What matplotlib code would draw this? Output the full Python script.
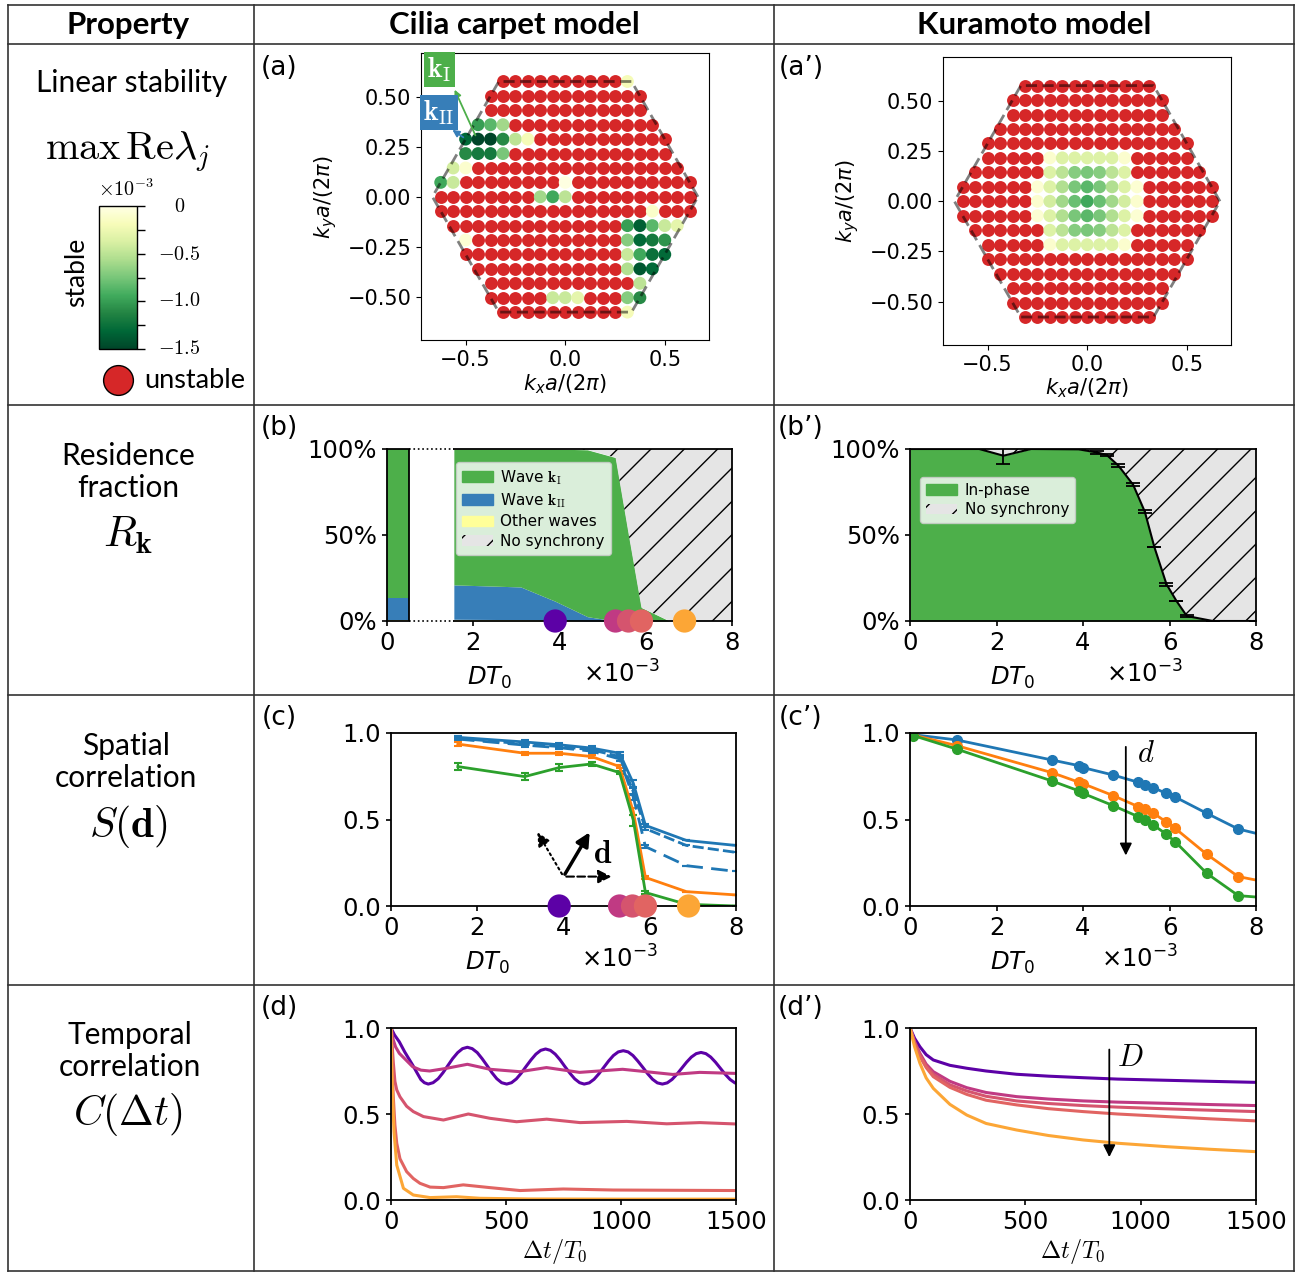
import numpy as np
import matplotlib
matplotlib.use("Agg")
import matplotlib.pyplot as plt
from matplotlib.patches import Patch
from matplotlib.colors import Normalize
from matplotlib.cm import ScalarMappable

plt.rcParams['font.family'] = 'DejaVu Sans'
plt.rcParams['mathtext.fontset'] = 'dejavusans'
plt.rcParams['hatch.linewidth'] = 1.0

# ---------------- data ----------------
# (a) cilia carpet: stable k-points (i, j, max Re lambda in units of 1e-3); all other points unstable
cilia_stable = [
    (5, 8, -0.2),
    (-7, 5, -1.0), (-6, 5, -0.85), (-5, 5, -0.6),
    (-8, 4, -1.3), (-7, 4, -1.5), (-6, 4, -1.5), (-5, 4, -1.1), (-4, 4, -0.5), (-3, 4, -0.2),
    (-8, 3, -1.1), (-7, 3, -1.2), (-6, 3, -1.2), (-5, 3, -0.75),
    (-9, 2, -0.4), (-8, 2, -0.1),
    (-10, 1, -0.95), (-9, 1, -0.45), (0, 1, -0.02),
    (-2, 0, -0.6), (-1, 0, -0.95), (0, 0, -0.5),
    (7, -1, -0.12),
    (5, -2, -1.0), (6, -2, -1.35), (7, -2, -0.85), (8, -2, -0.45), (9, -2, -0.3),
    (-8, -3, -0.08), (5, -3, -0.7), (6, -3, -1.3), (7, -3, -1.2), (8, -3, -1.05),
    (5, -4, -0.45), (6, -4, -0.95), (7, -4, -1.25), (8, -4, -1.3),
    (5, -5, -0.55), (6, -5, -1.4), (7, -5, -1.3),
    (6, -6, -0.5),
    (-1, -7, -0.45), (0, -7, -0.45), (1, -7, -0.3), (5, -7, -0.7), (6, -7, -1.1),
    (5, -8, -0.2),
]

# (a') Kuramoto: stable patch around k = 0 (nan = unstable)
nan = np.nan
kur_cols = [-4, -3, -2, -1, 0, 1, 2, 3, 4]
kur_rows = [3, 2, 1, 0, -1, -2, -3]
kur_patch = [
    [nan, -0.1, -0.35, -0.35, -0.35, -0.35, -0.35, -0.1, nan],
    [nan, -0.35, -0.5, -0.7, -0.75, -0.7, -0.5, -0.35, nan],
    [-0.08, -0.35, -0.55, -0.75, -0.85, -0.75, -0.55, -0.35, -0.08],
    [-0.1, -0.4, -0.6, -0.8, -0.95, -0.8, -0.6, -0.4, -0.1],
    [-0.08, -0.35, -0.55, -0.75, -0.85, -0.75, -0.55, -0.35, -0.08],
    [nan, -0.35, -0.5, -0.7, -0.75, -0.7, -0.5, -0.35, nan],
    [nan, -0.1, -0.35, -0.35, -0.35, -0.35, -0.35, -0.1, nan],
]

# (b) residence fractions, cilia
res_bar = [0.005, 0.131, 0.864]          # other, kII, kI at the single bar
res_x = [1.55, 3.1, 3.9, 4.65, 5.3, 5.62, 5.9, 6.55, 8.0]
res_other = [0.01, 0.008, 0.005, 0, 0, 0, 0, 0, 0]
res_kII = [0.2, 0.19, 0.11, 0.025, 0, 0, 0, 0, 0]
res_kI = [0.79, 0.802, 0.885, 0.97, 0.95, 0.48, 0.078, 0, 0]

# (b') residence, kuramoto (in-phase)
kb_x = [0.0, 1.6, 2.16, 2.8, 3.9, 4.32, 4.55, 4.82, 5.16, 5.43, 5.65, 5.93, 6.16, 6.4, 7.0, 8.0]
kb_y = [1.0, 1.0, 0.961, 1.0, 0.998, 0.98, 0.965, 0.903, 0.792, 0.635, 0.43, 0.214, 0.117, 0.029, 0.0, 0.0]
kb_err = [0, 0, 0.05, 0, 0, 0.008, 0.008, 0.008, 0.008, 0.008, 0, 0.008, 0, 0.005, 0, 0]

# highlighted noise strengths
mark_x = [3.9, 5.3, 5.6, 5.9, 6.9]
mark_colors = ['#5c01a6', '#c03a83', '#d5546e', '#e16462', '#fca636']

# (c) spatial correlation, cilia
cil_x = [1.55, 3.1, 3.9, 4.65, 5.3, 5.62, 5.9, 6.85, 8.0]
S_a = [0.975, 0.948, 0.932, 0.913, 0.883, 0.709, 0.466, 0.379, 0.35]
S_a_dash1 = [0.97, 0.936, 0.922, 0.903, 0.864, 0.66, 0.447, 0.35, 0.31]
S_a_dash2 = [0.965, 0.93, 0.915, 0.895, 0.85, 0.63, 0.343, 0.233, 0.2]
S_3a = [0.936, 0.883, 0.883, 0.864, 0.806, 0.544, 0.165, 0.083, 0.064]
S_7a = [0.806, 0.748, 0.8, 0.821, 0.771, 0.495, 0.078, 0.01, 0.0]
err_a = [0.01, 0.01, 0.01, 0.01, 0.01, 0.02, 0.01, 0, 0]
err_7a = [0.02, 0.02, 0.02, 0.01, 0.01, 0.03, 0.01, 0, 0]

# (c') spatial correlation, kuramoto
kur_x = [0.08, 1.08, 3.28, 3.91, 4.0, 4.7, 5.28, 5.43, 5.63, 5.92, 6.13, 6.86, 7.59, 8.0]
K_a = [0.99, 0.96, 0.844, 0.811, 0.80, 0.757, 0.715, 0.70, 0.684, 0.651, 0.63, 0.536, 0.445, 0.42]
K_3a = [0.988, 0.927, 0.771, 0.715, 0.707, 0.638, 0.574, 0.561, 0.536, 0.487, 0.449, 0.299, 0.17, 0.15]
K_7a = [0.985, 0.907, 0.723, 0.665, 0.651, 0.58, 0.516, 0.497, 0.468, 0.416, 0.372, 0.189, 0.06, 0.052]

# (d) temporal correlation, cilia
t_d1 = [0, 15, 36, 60, 94, 115, 130, 145,
        162, 183, 205, 226, 247, 268, 290, 311, 332, 353, 375, 396, 418, 439, 460, 481,
        503, 524, 545, 566, 587, 609, 630, 651, 672, 693, 714, 735, 756, 778, 799, 820,
        840, 862, 883, 904, 925, 946, 967, 988, 1010, 1031, 1052, 1073, 1095, 1116, 1137, 1158,
        1180, 1201, 1222, 1243, 1264, 1285, 1306, 1327, 1348, 1369, 1390, 1411, 1432, 1453, 1474, 1495, 1500]
C_d1 = [1.0, 0.96, 0.92, 0.86, 0.785, 0.735, 0.70, 0.682,
        0.674, 0.682, 0.705, 0.740, 0.781, 0.822, 0.857, 0.880, 0.888, 0.880, 0.857, 0.822, 0.781, 0.740, 0.705, 0.682,
        0.674, 0.682, 0.704, 0.737, 0.776, 0.815, 0.848, 0.870, 0.878, 0.870, 0.848, 0.815, 0.776, 0.737, 0.704, 0.682,
        0.674, 0.681, 0.702, 0.734, 0.771, 0.808, 0.840, 0.861, 0.868, 0.861, 0.840, 0.808, 0.771, 0.734, 0.702, 0.681,
        0.674, 0.681, 0.701, 0.731, 0.766, 0.801, 0.831, 0.851, 0.858, 0.851, 0.831, 0.801, 0.766, 0.731, 0.701, 0.681, 0.679]
t_d2 = [0, 10, 20, 36, 68, 94, 130, 168, 239, 332, 430, 560, 676, 820, 1007, 1225, 1342, 1500]
C_d2 = [1.0, 0.93, 0.89, 0.853, 0.81, 0.775, 0.755, 0.75, 0.765, 0.789, 0.76, 0.746, 0.77, 0.742, 0.76, 0.73, 0.742, 0.736]
t_d3 = [0, 5, 10, 17, 25, 39, 68, 97, 141, 228, 336, 430, 546, 677, 822, 1025, 1199, 1343, 1500]
C_d3 = [1.0, 0.9, 0.8, 0.69, 0.64, 0.6, 0.545, 0.514, 0.485, 0.465, 0.5, 0.475, 0.455, 0.47, 0.45, 0.457, 0.443, 0.45, 0.442]
t_d4 = [0, 4, 10, 17, 25, 39, 68, 97, 126, 170, 228, 314, 430, 561, 749, 967, 1500]
C_d4 = [1.0, 0.8, 0.6, 0.436, 0.33, 0.24, 0.165, 0.125, 0.097, 0.075, 0.072, 0.088, 0.072, 0.055, 0.064, 0.058, 0.055]
t_d5 = [0, 3, 7, 13, 25, 54, 97, 170, 285, 387, 600, 1000, 1500]
C_d5 = [1.0, 0.8, 0.6, 0.397, 0.203, 0.068, 0.029, 0.014, 0.019, 0.01, 0.006, 0.005, 0.005]

# (d') temporal correlation, kuramoto
t_k = [0, 20, 43, 70, 101, 173, 246, 330, 462, 600, 751, 900, 1113, 1300, 1500]
C_k1 = [1.0, 0.94, 0.891, 0.845, 0.814, 0.783, 0.766, 0.75, 0.731, 0.72, 0.711, 0.703, 0.696, 0.69, 0.684]
C_k2 = [1.0, 0.92, 0.853, 0.79, 0.746, 0.69, 0.653, 0.625, 0.601, 0.587, 0.576, 0.569, 0.562, 0.555, 0.549]
C_k3 = [1.0, 0.915, 0.843, 0.78, 0.731, 0.67, 0.634, 0.603, 0.576, 0.561, 0.549, 0.54, 0.53, 0.522, 0.514]
C_k4 = [1.0, 0.91, 0.834, 0.77, 0.717, 0.655, 0.614, 0.58, 0.553, 0.531, 0.514, 0.5, 0.485, 0.472, 0.46]
C_k5 = [1.0, 0.89, 0.795, 0.71, 0.649, 0.556, 0.494, 0.445, 0.407, 0.375, 0.349, 0.33, 0.31, 0.295, 0.281]

# ---------------- figure ----------------
W, H = 1302, 1272
fig = plt.figure(figsize=(W / 100, H / 100), dpi=100)
SANS = 'Lato'
RED = '#d62728'
GREEN = '#4daf4a'
BLUE = '#377eb8'
C_BLUE, C_ORANGE, C_GREEN = '#1f77b4', '#ff7f0e', '#2ca02c'
norm = Normalize(-1.5, 0)
cmap = plt.get_cmap('YlGn_r')

bg = fig.add_axes([0, 0, 1, 1])
bg.set_xlim(0, W)
bg.set_ylim(H, 0)
bg.axis('off')


def px_axes(x0, y0, x1, y1):
    return fig.add_axes([x0 / W, 1 - y1 / H, (x1 - x0) / W, (y1 - y0) / H])


# table grid
for y in [5, 44, 405, 695, 985, 1271]:
    bg.plot([8, 1294], [y, y], color='#333333', lw=1.2)
for x in [8, 254, 774, 1294]:
    bg.plot([x, x], [5, 1271], color='#333333', lw=1.2)

for x, s in [(128, 'Property'), (514, 'Cilia carpet model'), (1034, 'Kuramoto model')]:
    bg.text(x, 25, s, ha='center', va='center', family=SANS, weight='bold', fontsize=22.5)

# row titles
bg.text(132, 83, 'Linear stability', ha='center', va='center', family=SANS, fontsize=21.5)
bg.text(128, 152, r'$\max\,\mathrm{Re}\lambda_j$', ha='center', va='center', fontsize=29, math_fontfamily='cm')
bg.text(128, 472, 'Residence\nfraction', ha='center', va='center', family=SANS, fontsize=21.5, linespacing=1.2)
bg.text(128, 535, r'$R_{\mathbf{k}}$', ha='center', va='center', fontsize=31, math_fontfamily='cm')
bg.text(126, 762, 'Spatial\ncorrelation', ha='center', va='center', family=SANS, fontsize=21.5, linespacing=1.2)
bg.text(128, 826, r'$S(\mathbf{d})$', ha='center', va='center', fontsize=30, math_fontfamily='cm')
bg.text(130, 1051, 'Temporal\ncorrelation', ha='center', va='center', family=SANS, fontsize=21.5, linespacing=1.2)
bg.text(128, 1115, r'$C(\Delta t)$', ha='center', va='center', fontsize=30, math_fontfamily='cm')

for (x, y, s) in [(279, 68, '(a)'), (801, 68, '(a’)'), (279, 428, '(b)'), (801, 428, '(b’)'),
                  (279, 718, '(c)'), (801, 718, '(c’)'), (279, 1008, '(d)'), (801, 1008, '(d’)')]:
    bg.text(x, y, s, ha='center', va='center', fontsize=19)

# colorbar of stability
cax = px_axes(99, 206, 137, 349)
cb = fig.colorbar(ScalarMappable(norm=norm, cmap=cmap), cax=cax)
cb.set_ticks([0, -0.5, -1.0, -1.5])
cax.set_yticks([-0.25, -0.75, -1.25], minor=True)
cax.set_yticklabels([])
cax.tick_params(which='both', length=6, width=1)
cb.outline.set_linewidth(1)
bg.text(180, 206, r'$0$', ha='center', va='center', fontsize=14.5, math_fontfamily='cm')
for y, s in [(254, r'$-0.5$'), (301, r'$-1.0$'), (349, r'$-1.5$')]:
    bg.text(158, y, s, ha='left', va='center', fontsize=14.5, math_fontfamily='cm')
bg.text(126, 189, r'$\times10^{-3}$', ha='center', va='center', fontsize=14.5, math_fontfamily='cm')
bg.text(77, 272, 'stable', ha='center', va='center', rotation=90, family=SANS, fontsize=19)
bg.scatter([118], [380], s=460, color=RED, edgecolor='k', lw=1, clip_on=False)
bg.text(144, 381, 'unstable', ha='left', va='center', family=SANS, fontsize=19.5)

# ---------- (a), (a') ----------
dkx = 1 / 16
dky = 1 / (8 * np.sqrt(3))
hexagon = np.array([(2 / 3, 0), (1 / 3, 1 / np.sqrt(3)), (-1 / 3, 1 / np.sqrt(3)), (-2 / 3, 0),
                    (-1 / 3, -1 / np.sqrt(3)), (1 / 3, -1 / np.sqrt(3)), (2 / 3, 0)])
grid = []
for j in range(-8, 9):
    for i in range(-11, 12):
        kx, ky = i * dkx, j * dky
        if abs(kx) <= 2 / 3 - abs(ky) / np.sqrt(3) + 1e-9:
            grid.append((i, j))


def draw_bz(ax, stable):
    red = np.array([(i * dkx, j * dky) for (i, j) in grid if (i, j) not in stable])
    ax.scatter(red[:, 0], red[:, 1], s=86, color=RED, lw=0, zorder=2)
    keys = list(stable.keys())
    gx = [i * dkx for i, j in keys]
    gy = [j * dky for i, j in keys]
    gv = [stable[k] for k in keys]
    ax.scatter(gx, gy, s=86, c=gv, cmap=cmap, norm=norm, lw=0, zorder=2)
    ax.plot(hexagon[:, 0], hexagon[:, 1], color='k', alpha=0.5, lw=2, dashes=(4, 2), zorder=3)
    ax.set_xlim(-0.724, 0.722)
    ax.set_ylim(-0.717, 0.72)
    ax.set_xticks([-0.5, 0, 0.5])
    ax.set_yticks([-0.5, -0.25, 0, 0.25, 0.5])
    ax.tick_params(labelsize=15)


ax_a = px_axes(421, 53, 709, 340)
draw_bz(ax_a, {(i, j): v for i, j, v in cilia_stable})
bg.text(565, 384, r'$k_xa/(2\pi)$', ha='center', va='center', fontsize=15)
bg.text(326, 197, r'$k_ya/(2\pi)$', ha='center', va='center', fontsize=15, rotation=90)
ax_a.annotate('', xy=(-0.561, 0.549), xytext=(-0.445, 0.295),
              arrowprops=dict(arrowstyle='-|>', color=GREEN, lw=1.3, mutation_scale=10), zorder=4)
ax_a.annotate('', xy=(-0.578, 0.343), xytext=(-0.5, 0.29),
              arrowprops=dict(arrowstyle='-|>', color=BLUE, lw=1.3, mutation_scale=10), zorder=4)
ax_a.text(-0.633, 0.638, r'$\mathbf{k}_\mathrm{I}$', ha='center', va='center', fontsize=20, color='white',
          math_fontfamily='cm', clip_on=False, zorder=6,
          bbox=dict(boxstyle='square,pad=0.12', fc=GREEN, ec='none'))
ax_a.text(-0.633, 0.422, r'$\mathbf{k}_\mathrm{II}$', ha='center', va='center', fontsize=20, color='white',
          math_fontfamily='cm', clip_on=False, zorder=6,
          bbox=dict(boxstyle='square,pad=0.12', fc=BLUE, ec='none'))

ax_a2 = px_axes(943, 57, 1231, 345)
kur_stable = {}
for r, j in enumerate(kur_rows):
    for c, i in enumerate(kur_cols):
        if not np.isnan(kur_patch[r][c]):
            kur_stable[(i, j)] = kur_patch[r][c]
draw_bz(ax_a2, kur_stable)
bg.text(1087, 388, r'$k_xa/(2\pi)$', ha='center', va='center', fontsize=15)
bg.text(848, 201, r'$k_ya/(2\pi)$', ha='center', va='center', fontsize=15, rotation=90)

TICK = 17.5


def style(ax):
    ax.tick_params(labelsize=TICK, width=1.2)
    for sp in ax.spines.values():
        sp.set_linewidth(1.3)


# ---------- (b) ----------
ax_b = px_axes(387, 449, 732, 621)
base = 0
for v, col in zip(res_bar, ['#ffff99', BLUE, GREEN]):
    ax_b.bar(0.255, v, width=0.51, bottom=base, color=col, lw=0)
    base += v
base = np.zeros(len(res_x))
for vals, col in [(res_other, '#ffff99'), (res_kII, BLUE), (res_kI, GREEN)]:
    ax_b.fill_between(res_x, base, base + np.array(vals), color=col, lw=0)
    base = base + np.array(vals)
ax_b.fill_between(res_x, base, 1, facecolor='#e5e5e5', edgecolor='k', hatch='/', lw=0)
ax_b.set_xlim(0, 8)
ax_b.set_ylim(0, 1)
style(ax_b)
ax_b.spines['top'].set_visible(False)
ax_b.spines['bottom'].set_visible(False)
for yy in [0, 1]:
    ax_b.plot([0, 0.51], [yy, yy], color='k', lw=1.3, clip_on=False, zorder=5)
    ax_b.plot([0.51, 1.55], [yy, yy], color='k', lw=1.2, ls=':', clip_on=False, zorder=5)
    ax_b.plot([1.55, 8], [yy, yy], color='k', lw=1.3, clip_on=False, zorder=5)
ax_b.plot([0.51, 0.51], [0, 1], color='k', lw=1.3, zorder=5)
ax_b.set_xticks([0, 2, 4, 6, 8])
ax_b.set_yticks([0, 0.5, 1])
ax_b.set_yticklabels(['0%', '50%', '100%'])
ax_b.scatter(mark_x, [0] * 5, s=280, c=mark_colors, zorder=6, clip_on=False, lw=0)
leg = ax_b.legend(handles=[Patch(color=GREEN, label=r'Wave $\mathbf{k}_\mathrm{I}$'),
                           Patch(color=BLUE, label=r'Wave $\mathbf{k}_\mathrm{II}$'),
                           Patch(color='#ffff99', label='Other waves'),
                           Patch(facecolor='#e5e5e5', edgecolor='k', hatch='/', lw=0, label='No synchrony')],
                  loc='upper left', bbox_to_anchor=(0.2, 0.925), borderaxespad=0, fontsize=11,
                  handletextpad=0.5, labelspacing=0.3)
for t in leg.get_texts():
    t.set_math_fontfamily('cm')
bg.text(490, 678, r'$DT_0$', ha='center', va='center', fontsize=TICK)
bg.text(622, 674, r'$\times10^{-3}$', ha='center', va='center', fontsize=TICK)

# ---------- (b') ----------
ax_b2 = px_axes(910, 449, 1256, 621)
ax_b2.fill_between(kb_x, 0, kb_y, color=GREEN, lw=0)
ax_b2.fill_between(kb_x, kb_y, 1, facecolor='#e5e5e5', edgecolor='k', hatch='/', lw=0)
ax_b2.errorbar(kb_x, kb_y, yerr=kb_err, color='k', lw=1.5, capsize=5, elinewidth=1.3, capthick=1.3)
ax_b2.set_xlim(0, 8)
ax_b2.set_ylim(0, 1)
style(ax_b2)
ax_b2.set_xticks([0, 2, 4, 6, 8])
ax_b2.set_yticks([0, 0.5, 1])
ax_b2.set_yticklabels(['0%', '50%', '100%'])
ax_b2.legend(handles=[Patch(color=GREEN, label='In-phase'),
                      Patch(facecolor='#e5e5e5', edgecolor='k', hatch='/', lw=0, label='No synchrony')],
             loc='upper left', bbox_to_anchor=(0.03, 0.84), borderaxespad=0, fontsize=11,
             handletextpad=0.5, labelspacing=0.3)
bg.text(1013, 678, r'$DT_0$', ha='center', va='center', fontsize=TICK)
bg.text(1145, 674, r'$\times10^{-3}$', ha='center', va='center', fontsize=TICK)

# ---------- (c) ----------
ax_c = px_axes(391, 733, 736, 906)
eb = dict(lw=2, capsize=3, elinewidth=1.5, capthick=1.5)
ax_c.errorbar(cil_x, S_a, yerr=err_a, color=C_BLUE, **eb)
ax_c.errorbar(cil_x, S_a_dash1, yerr=err_a, color=C_BLUE, ls=(0, (4, 1.5)), **eb)
ax_c.errorbar(cil_x, S_a_dash2, yerr=err_a, color=C_BLUE, ls=(0, (6, 3)), **eb)
ax_c.errorbar(cil_x, S_3a, yerr=err_a, color=C_ORANGE, **eb)
ax_c.errorbar(cil_x, S_7a, yerr=err_7a, color=C_GREEN, **eb)
ax_c.scatter(mark_x, [0] * 5, s=280, c=mark_colors, zorder=6, clip_on=False, lw=0)
ax_c.set_xlim(0, 8)
ax_c.set_ylim(0, 1)
style(ax_c)
ax_c.set_xticks([0, 2, 4, 6, 8])
ax_c.set_yticks([0, 0.5, 1])
ax_c.annotate('', xy=(4.64, 0.44), xytext=(4.0, 0.17),
              arrowprops=dict(arrowstyle='-|>', color='k', lw=2.5, mutation_scale=20))
ax_c.annotate('', xy=(5.18, 0.17), xytext=(4.0, 0.17),
              arrowprops=dict(arrowstyle='-|>', color='k', lw=1.5, ls='--', mutation_scale=20))
ax_c.annotate('', xy=(3.36, 0.44), xytext=(4.0, 0.17),
              arrowprops=dict(arrowstyle='-|>', color='k', lw=1.5, ls=':', mutation_scale=20))
ax_c.text(4.9, 0.3, r'$\mathbf{d}$', ha='center', va='center', fontsize=23, math_fontfamily='cm')
for y, s, col in [(815, r'$d = a$', C_BLUE), (850, r'$d = 3a$', C_ORANGE), (887, r'$d = 7a$', C_GREEN)]:
    bg.text(416, y, s, ha='left', va='center', fontsize=22, color=col, math_fontfamily='cm')
bg.text(488, 963, r'$DT_0$', ha='center', va='center', fontsize=TICK)
bg.text(620, 959, r'$\times10^{-3}$', ha='center', va='center', fontsize=TICK)

# ---------- (c') ----------
ax_c2 = px_axes(910, 733, 1256, 906)
for vals, col in [(K_a, C_BLUE), (K_3a, C_ORANGE), (K_7a, C_GREEN)]:
    ax_c2.plot(kur_x, vals, '-o', color=col, lw=2, ms=7, markevery=list(range(len(kur_x) - 1)))
ax_c2.set_xlim(0, 8)
ax_c2.set_ylim(0, 1)
style(ax_c2)
ax_c2.set_xticks([0, 2, 4, 6, 8])
ax_c2.set_yticks([0, 0.5, 1])
ax_c2.annotate('', xy=(4.99, 0.276), xytext=(4.99, 0.936),
               arrowprops=dict(arrowstyle='-|>', color='k', lw=1.3, mutation_scale=18))
ax_c2.text(5.45, 0.88, r'$d$', ha='center', va='center', fontsize=22, math_fontfamily='cm')
bg.text(1013, 963, r'$DT_0$', ha='center', va='center', fontsize=TICK)
bg.text(1140, 959, r'$\times10^{-3}$', ha='center', va='center', fontsize=TICK)

# ---------- (d) ----------
ax_d = px_axes(391, 1028, 736, 1200)
for tt, cc, col in zip([t_d1, t_d2, t_d3, t_d4, t_d5], [C_d1, C_d2, C_d3, C_d4, C_d5], mark_colors):
    ax_d.plot(tt, cc, color=col, lw=2.2)
ax_d.set_xlim(0, 1500)
ax_d.set_ylim(0, 1)
style(ax_d)
ax_d.set_xticks([0, 500, 1000, 1500])
ax_d.set_yticks([0, 0.5, 1])
bg.text(555, 1252, r'$\Delta t/T_0$', ha='center', va='center', fontsize=TICK, math_fontfamily='cm')

# ---------- (d') ----------
ax_d2 = px_axes(910, 1028, 1256, 1200)
for cc, col in zip([C_k1, C_k2, C_k3, C_k4, C_k5], mark_colors):
    ax_d2.plot(t_k, cc, color=col, lw=2.2)
ax_d2.set_xlim(0, 1500)
ax_d2.set_ylim(0, 1)
style(ax_d2)
ax_d2.set_xticks([0, 500, 1000, 1500])
ax_d2.set_yticks([0, 0.5, 1])
ax_d2.annotate('', xy=(864, 0.233), xytext=(864, 0.891),
               arrowprops=dict(arrowstyle='-|>', color='k', lw=1.3, mutation_scale=18))
ax_d2.text(955, 0.83, r'$D$', ha='center', va='center', fontsize=22, math_fontfamily='cm')
bg.text(1073, 1252, r'$\Delta t/T_0$', ha='center', va='center', fontsize=TICK, math_fontfamily='cm')

fig.savefig('out.png', dpi=100)
